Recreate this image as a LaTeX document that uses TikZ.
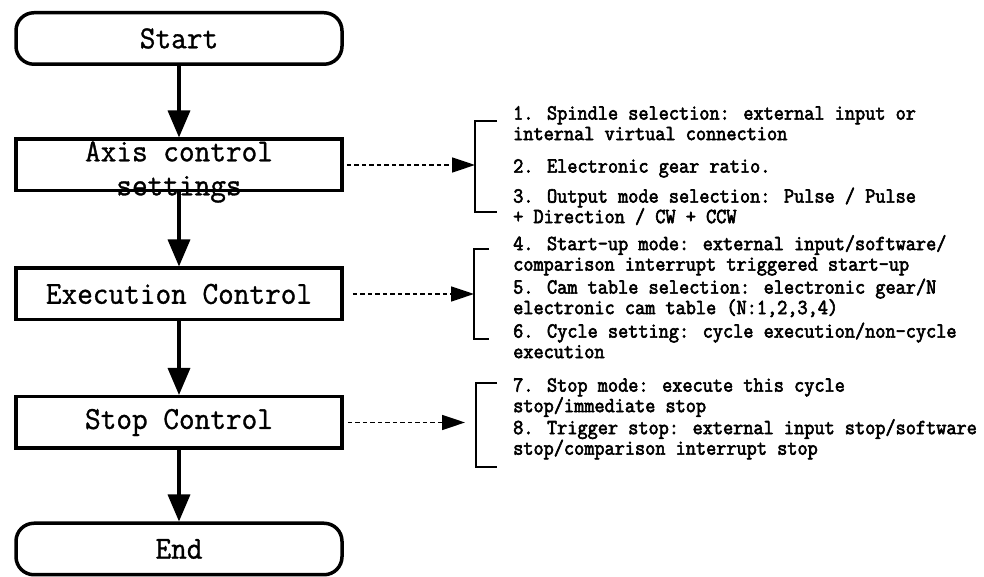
\documentclass[tikz,border=0pt]{standalone}
\usepackage{fontspec}
\usetikzlibrary{
  arrows.meta,
  positioning,
  calc
}
\newfontfamily\boxfont[FakeStretch=0.95, FakeBold=1]{Latin Modern Mono}
\newfontfamily\notefont[FakeStretch=0.917, FakeBold=2.8]{Latin Modern Mono}
\newcommand\tightlines{\lineskiplimit=-1000pt\relax}

\begin{document}
\begin{tikzpicture}[
    x=1pt, y=1pt,
    % Styles
    flowbox/.style={
        rectangle,
        draw=black,
        line width=3.5pt,
        fill=white,
        minimum width=326pt,
        minimum height=51.5pt,
        inner sep=0pt,
        align=center,
        font=\boxfont\fontsize{32}{32}\selectfont
    },
    terminal/.style={
        flowbox,
        rounded corners=18pt
    },
    boxtext/.style={
        inner sep=0pt,
        align=center,
        font=\boxfont\fontsize{32}{34}\selectfont\tightlines
    },
    notes/.style={
        inner sep=0pt,
        anchor=north west,
        align=left,
        font=\notefont\fontsize{21.5}{20.5}\selectfont\tightlines
    },
    % Connectors
    flow/.style={
        line width=3.5pt,
        -{Triangle[length=27pt, width=22pt]}
    },
    link/.style={
        line width=1.6pt,
        dash pattern=on 4.5pt off 3pt,
        -{Triangle[length=23pt, width=15pt]}
    },
    bracket/.style={
        line width=2pt
    }
]

\useasboundingbox (0,0) rectangle (984,577);

% --- FLOW COLUMN ---
\node[terminal] (start) at (179,538.5) {Start};
\node[flowbox] (axis) at (179,412) {};
\node[boxtext] (axislabel) at ([yshift=-7pt]axis.center) {Axis control\\settings};
\node[flowbox] (exec) at (179,283) {Execution Control};
\node[flowbox] (stop) at (179,154.5) {Stop Control};
\node[terminal] (end) at (179,28) {End};

\draw[flow] (start) -- (axis);
\draw[flow] (axis) -- (exec);
\draw[flow] (exec) -- (stop);
\draw[flow] (stop) -- (end);

% --- BRACKETS ---
\coordinate (axisbr) at (475,410);
\coordinate (execbr) at (474,283);
\coordinate (stopbr) at (476,152);

\draw[bracket] ($(axisbr)+(22,45.5)$) -| ($(axisbr)+(0,-45.5)$) -- ++(22,0);
\draw[bracket] ($(execbr)+(15,45)$) -| ($(execbr)+(0,-45)$) -- ++(15,0);
\draw[bracket] ($(stopbr)+(21,42)$) -| ($(stopbr)+(0,-42)$) -- ++(21,0);

% --- DASHED LINKS ---
\draw[link, shorten <=3pt] (axis.east) -- (axis.east -| axisbr);
\draw[link, shorten <=9pt] (exec.east) -- (exec.east -| execbr);
\draw[link, shorten <=4pt, shorten >=11pt] (stop.east) -- (stop.east -| stopbr);

% --- NOTES ---
\node[notes] (axisnotes) at (513,471) {1. Spindle selection: external input or\\internal virtual connection\\[12pt]2. Electronic gear ratio.\\[9.5pt]3. Output mode selection: Pulse / Pulse\\+ Direction / CW + CCW};
\node[notes] (execnotes) at (513,342) {4. Start-up mode: external input/software/\\comparison interrupt triggered start-up\\[2.5pt]5. Cam table selection: electronic gear/N\\electronic cam table (N:1,2,3,4)\\[3pt]6. Cycle setting: cycle execution/non-cycle\\execution};
\node[notes] (stopnotes) at (513,199) {7. Stop mode: execute this cycle\\stop/immediate stop\\[1.5pt]8. Trigger stop: external input stop/software\\stop/comparison interrupt stop};

\end{tikzpicture}
\end{document}
